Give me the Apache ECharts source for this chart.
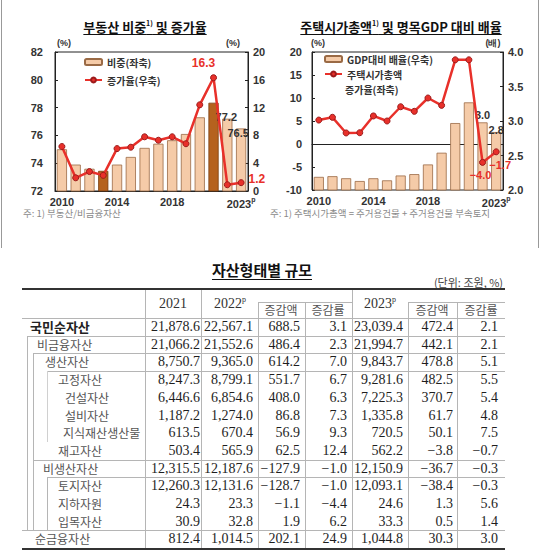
<!DOCTYPE html>
<html><head><meta charset="utf-8">
<script src="https://cdn.jsdelivr.net/npm/echarts@6/dist/echarts.min.js"></script>
<style>
html,body{margin:0;padding:0;background:#fff;width:540px;height:558px;overflow:hidden;position:relative;font-family:"Noto Sans CJK KR","Noto Sans",sans-serif;}
.abs{position:absolute;white-space:nowrap;}
.ttl{font-weight:bold;font-size:13px;color:#111;text-decoration:underline;text-underline-offset:2px;transform:translateX(-50%);line-height:16px;}
.ttl sup{font-size:7px;vertical-align:6px;line-height:0;}
.unit{font-weight:bold;font-size:9px;color:#333;font-family:"Liberation Sans",sans-serif;line-height:10px;transform:translateX(-50%);}
.note{font-size:9.5px;color:#8a8a8a;line-height:12px;}
.hl{position:absolute;background:#b5b5b5;height:1px;}
.vl{position:absolute;background:#b5b5b5;width:1px;}
.num{position:absolute;white-space:nowrap;font-family:"Liberation Serif",serif;font-size:14px;color:#1e1e1e;line-height:18px;height:18px;}
.lab{position:absolute;white-space:nowrap;font-size:12px;color:#555;line-height:18px;height:18px;}
.hdr{position:absolute;white-space:nowrap;font-size:12px;color:#555;line-height:16px;transform:translateX(-50%);}
.hyr{position:absolute;white-space:nowrap;font-family:"Liberation Serif",serif;font-size:14px;color:#333;line-height:18px;transform:translateX(-50%);}
.hyr sup{font-size:8px;vertical-align:6px;line-height:0;}
</style></head><body>

<div class="abs" style="left:1px;top:0;width:1px;height:248px;background:#999"></div>
<div class="abs" style="left:538px;top:0;width:1px;height:248px;background:#999"></div>

<div class="abs ttl" style="left:145px;top:19px;">부동산 비중<sup>1)</sup> 및 증가율</div>
<div class="abs ttl" style="left:401px;top:19px;">주택시가총액<sup>1)</sup> 및 명목GDP 대비 배율</div>

<div class="abs unit" style="left:64px;top:38px;">(%)</div>
<div class="abs unit" style="left:233px;top:38px;">(%)</div>
<div class="abs unit" style="left:318px;top:38px;">(%)</div>
<div class="abs unit" style="left:493px;top:38px;">(배)</div>

<div id="c1" class="abs" style="left:0;top:0;width:270px;height:215px;"></div>
<div id="c2" class="abs" style="left:270px;top:0;width:270px;height:215px;"></div>

<div class="abs note" style="left:23px;top:207px;">주: 1) 부동산/비금융자산</div>
<div class="abs note" style="left:270px;top:207px;">주: 1) 주택시가총액 = 주거용건물 + 주거용건물 부속토지</div>

<div class="abs" style="left:262px;top:260px;transform:translateX(-50%);font-weight:bold;font-size:15px;color:#111;text-decoration:underline;text-underline-offset:3px;line-height:20px;">자산형태별 규모</div>
<div class="abs" style="right:37px;top:275px;font-size:11px;color:#444;line-height:14px;">(단위: 조원, %)</div>

<div id="tbl"></div>

<script>
// ---------- chart data ----------
const years = ['2010','2011','2012','2013','2014','2015','2016','2017','2018','2019','2020','2021','2022','2023'];
const shownYears = ['2010','2014','2018','2023'];
const realEstateShare = [75.0, 73.9, 73.6, 73.45, 73.9, 74.45, 75.1, 75.4, 75.65, 76.1, 77.3, 78.35, 77.2, 76.5];
const realEstateGrowth = [6.4, 1.9, 2.8, 2.25, 6.1, 6.3, 7.8, 7.3, 7.8, 6.8, 12.4, 16.3, 0.9, 1.2];
const darkYears = ['2013','2021'];
const shareLabelYears = ['2022','2023'];
const growthLabelYears = ['2021','2023'];

const gdpRatio = [2.19, 2.20, 2.17, 2.13, 2.17, 2.14, 2.21, 2.23, 2.37, 2.54, 2.97, 3.27, 2.98, 2.84];
const housingGrowth = [5.2, 5.8, 2.4, 2.45, 6.1, 5.0, 8.1, 7.1, 10.0, 8.4, 18.3, 18.3, -4.0, -1.7];
const ratioLabelYears = ['2022','2023'];
const housingLabelYears = ['2022','2023'];

// ---------- table data ----------
const rowLabels = ['국민순자산','비금융자산','생산자산','고정자산','건설자산','설비자산','지식재산생산물','재고자산','비생산자산','토지자산','지하자원','입목자산','순금융자산'];
const col2021 = [21878.6, 21066.2, 8750.7, 8247.3, 6446.6, 1187.2, 613.5, 503.4, 12315.5, 12260.3, 24.3, 30.9, 812.4];
const col2022 = [22567.1, 21552.6, 9365.0, 8799.1, 6854.6, 1274.0, 670.4, 565.9, 12187.6, 12131.6, 23.3, 32.8, 1014.5];
const chg2022 = [688.5, 486.4, 614.2, 551.7, 408.0, 86.8, 56.9, 62.5, -127.9, -128.7, -1.1, 1.9, 202.1];
const rate2022 = [3.1, 2.3, 7.0, 6.7, 6.3, 7.3, 9.3, 12.4, -1.0, -1.0, -4.4, 6.2, 24.9];
const col2023 = [23039.4, 21994.7, 9843.7, 9281.6, 7225.3, 1335.8, 720.5, 562.2, 12150.9, 12093.1, 24.6, 33.3, 1044.8];
const chg2023 = [472.4, 442.1, 478.8, 482.5, 370.7, 61.7, 50.1, -3.8, -36.7, -38.4, 1.3, 0.5, 30.3];
const rate2023 = [2.1, 2.1, 5.1, 5.5, 5.4, 4.8, 7.5, -0.7, -0.3, -0.3, 5.6, 1.4, 3.0];

// ---------- charts ----------
const axisFont = {fontFamily:'Liberation Sans', fontWeight:'bold', fontSize:11, color:'#333'};
const barColor = '#f5cba8', barBorder = '#9a6a45', darkBar = '#b5621e';
const lineColor = '#e8302a', markBorder = '#9b1b1b';

function xAxisCfg(){
  return {
    type:'category', data:years, boundaryGap:true,
    axisLine:{show:true, lineStyle:{color:'#222', width:1}},
    axisTick:{show:false},
    axisLabel:{...axisFont, margin:5, interval:0,
      formatter:(v)=> shownYears.includes(v) ? (v==='2023' ? v+'{p|p}' : v) : '',
      rich:{p:{fontFamily:'Liberation Sans', fontSize:7, color:'#333', padding:[0,0,9,0]}}}
  };
}
function yAxisCfg(min,max,interval,pos,margin,fmt){
  return {
    type:'value', min, max, interval, position:pos,
    axisLine:{show:true, lineStyle:{color:'#222'}},
    axisTick:{show:true, inside:true, length:3, lineStyle:{color:'#222'}},
    splitLine:{show:false},
    axisLabel:{...axisFont, margin, formatter: fmt || (v=>String(v))}
  };
}
const legendText = {fontFamily:'Noto Sans CJK KR', fontWeight:'bold', fontSize:10, color:'#333', lineHeight:12};

const c1 = echarts.init(document.getElementById('c1'), null, {renderer:'svg'});
c1.setOption({
  animation:false,
  grid:{left:55, top:52, width:193, height:139, show:true, borderColor:'#222', borderWidth:1, outerBoundsMode:'none'},
  legend:{orient:'vertical', left:84, top:56, padding:0, itemGap:6, itemWidth:17, itemHeight:6, textStyle:legendText,
    data:['비중(좌축)','증가율(우축)']},
  xAxis: xAxisCfg(),
  yAxis:[ yAxisCfg(72,82,2,'left',12), yAxisCfg(0,20,4,'right',5) ],
  series:[
    {name:'비중(좌축)', type:'bar', yAxisIndex:0, barCategoryGap:'26%',
     itemStyle:{color:barColor, borderColor:barBorder, borderWidth:0.8},
     data: realEstateShare.map((v,i)=>({value:v,
        itemStyle: darkYears.includes(years[i]) ? {color:darkBar, borderColor:'#7a3d10'} : undefined,
        label: shareLabelYears.includes(years[i]) ? {show:true} : {show:false}})),
     label:{position:'top', distance:0, fontFamily:'Liberation Sans', fontWeight:'bold', fontSize:11, color:'#333',
       formatter:p=>p.value.toFixed(1)},
     labelLayout:(p)=> p.dataIndex===13 ? {dx:-3, dy:10} : {dx:-1, dy:4}
    },
    {name:'증가율(우축)', type:'line', yAxisIndex:1, symbol:'circle', symbolSize:6,
     lineStyle:{color:lineColor, width:2.5}, itemStyle:{color:lineColor, borderColor:markBorder, borderWidth:1},
     data: realEstateGrowth.map((v,i)=>({value:v,
        label: growthLabelYears.includes(years[i]) ? {show:true, position: years[i]==='2023' ? 'right' : 'top'} : {show:false}})),
     label:{fontFamily:'Liberation Sans', fontWeight:'bold', fontSize:12, color:lineColor, distance:4,
       formatter:p=>p.value.toFixed(1)},
     labelLayout:(p)=> p.dataIndex===11 ? {dx:-10, dy:-1} : {dx:0, dy:-4}
    }
  ]
});

const c2 = echarts.init(document.getElementById('c2'), null, {renderer:'svg'});
c2.setOption({
  animation:false,
  grid:{left:42, top:52, width:191, height:138, show:true, borderColor:'#222', borderWidth:1, outerBoundsMode:'none'},
  legend:{orient:'vertical', left:54, top:53, padding:0, itemGap:3, itemWidth:17, itemHeight:6, textStyle:legendText,
    data:['GDP대비 배율(우축)','주택시가총액 증가율(좌축)'],
    formatter:n=> n==='주택시가총액 증가율(좌축)' ? '주택시가총액' : n},
  graphic:[{type:'text', left:75, top:84, style:{text:'증가율(좌축)', fontFamily:'Noto Sans CJK KR', fontWeight:'bold', fontSize:10, fill:'#333'}}],
  xAxis: xAxisCfg(),
  yAxis:[ yAxisCfg(-10,20,5,'left',10), yAxisCfg(2,4,0.5,'right',5, v=>v.toFixed(1)) ],
  series:[
    {name:'GDP대비 배율(우축)', type:'bar', yAxisIndex:1, barCategoryGap:'26%',
     itemStyle:{color:barColor, borderColor:barBorder, borderWidth:0.8},
     data: gdpRatio.map((v,i)=>({value:v, label: ratioLabelYears.includes(years[i]) ? {show:true} : {show:false}})),
     label:{position:'top', distance:2, fontFamily:'Liberation Sans', fontWeight:'bold', fontSize:11, color:'#333',
       formatter:p=>p.value.toFixed(1)},
     labelLayout:(p)=> p.dataIndex===13 ? {dx:0, dy:5} : {dx:0, dy:0}
    },
    {name:'주택시가총액 증가율(좌축)', type:'line', yAxisIndex:0, symbol:'circle', symbolSize:6,
     lineStyle:{color:lineColor, width:2.5}, itemStyle:{color:lineColor, borderColor:markBorder, borderWidth:1},
     data: housingGrowth.map((v,i)=>({value:v, label: housingLabelYears.includes(years[i]) ? {show:true, position:'bottom'} : {show:false}})),
     label:{fontFamily:'Liberation Sans', fontWeight:'bold', fontSize:11, color:lineColor, distance:4,
       formatter:p=>(p.value<0?'−':'')+Math.abs(p.value).toFixed(1)},
     labelLayout:(p)=> p.dataIndex===13 ? {dx:4, dy:0} : {dx:-2, dy:0}
    }
  ]
});

// ---------- table ----------
(function(){
  const T = document.getElementById('tbl');
  function add(cls, style, html){ const d=document.createElement('div'); d.className=cls; d.setAttribute('style',style); if(html!==undefined) d.innerHTML=html; T.appendChild(d); return d; }
  const X0=22, X1=505;
  const rowTop0 = 318, rowH = 17.7;
  const rowTop = i => rowTop0 + i*rowH;
  const bottom = rowTop(13);
  add('abs', `left:${X0}px;top:288px;width:${X1-X0}px;height:2px;background:#333`);
  add('abs', `left:${X0}px;top:${bottom}px;width:${X1-X0}px;height:2px;background:#333`);
  add('hl', `left:${X0}px;top:${rowTop0}px;width:${X1-X0}px`);
  add('hl', `left:258px;top:302px;width:94px`);
  add('hl', `left:408px;top:302px;width:97px`);
  [[145,290],[201,290],[258,302],[305,302],[352,290],[408,302],[457,302]].forEach(([x,y0])=>{
    add('vl', `left:${x}px;top:${y0}px;height:${bottom-y0}px`);
  });
  const rules = [[1, 27], [2, 33], [3, 47], [8, 33], [9, 47], [12, X0]];
  rules.forEach(([r,x])=> add('hl', `left:${x}px;top:${rowTop(r)}px;width:${X1-x}px`));
  add('vl', `left:27px;top:${rowTop(1)}px;height:${rowTop(12)-rowTop(1)}px`);
  add('vl', `left:33px;top:${rowTop(2)}px;height:${rowTop(12)-rowTop(2)}px`);
  add('vl', `left:47px;top:${rowTop(3)}px;height:${rowTop(7)-rowTop(3)}px;background:#d0d0d0`);
  add('vl', `left:47px;top:${rowTop(9)}px;height:${rowTop(12)-rowTop(9)}px`);
  add('hyr', `left:173px;top:295px`, '2021');
  add('hyr', `left:230px;top:295px`, '2022<sup>p</sup>');
  add('hyr', `left:380px;top:295px`, '2023<sup>p</sup>');
  [[281,'증감액'],[328,'증감률'],[432,'증감액'],[481,'증감률']].forEach(([x,t])=> add('hdr', `left:${x}px;top:302px`, t));
  const labelX = [30,37,45,58,65,65,63,58,43,58,58,58,35];
  rowLabels.forEach((t,i)=>{
    const st = i===0 ? 'font-weight:bold;font-size:13px;color:#222;' : '';
    add('lab', `left:${labelX[i]}px;top:${rowTop(i)}px;${st}`, t);
  });
  const fmt = v => (v<0?'−':'') + Math.abs(v).toLocaleString('en-US',{minimumFractionDigits:1, maximumFractionDigits:1});
  const cols = [col2021, col2022, chg2022, rate2022, col2023, chg2023, rate2023];
  const rightEdge = [200, 253, 300, 347, 403, 453, 498];
  cols.forEach((col,c)=> col.forEach((v,i)=>{
    add('num', `right:${540-rightEdge[c]}px;top:${rowTop(i)}px`, fmt(v));
  }));
})();
</script>
</body></html>
